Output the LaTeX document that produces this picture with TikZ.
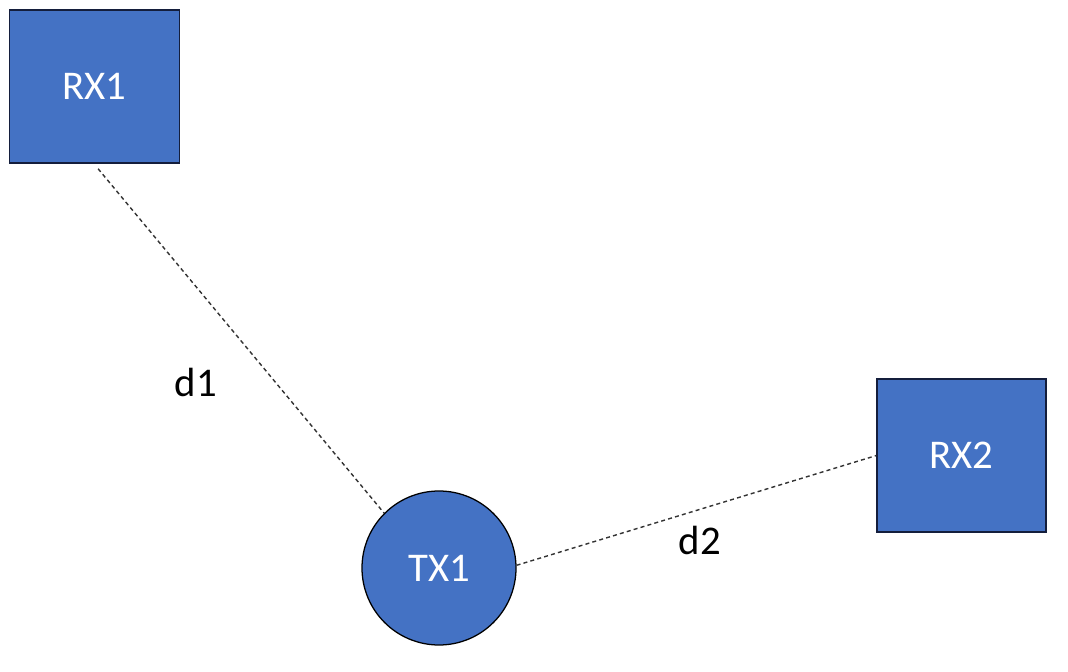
\documentclass[tikz,border=0pt]{standalone}
\usepackage{fontspec}
\setmainfont{Carlito}
\usetikzlibrary{positioning, calc}
\definecolor{nodeblue}{RGB}{68, 114, 196}
\definecolor{edgenavy}{RGB}{20, 30, 60}
\tikzset{
    rxbox/.style={draw=edgenavy, line width=0.8pt, fill=nodeblue, rectangle, minimum width=4.25cm, minimum height=3.825cm, font=\fontsize{29}{34}\selectfont, text=white},
    txnode/.style={draw=black, line width=0.9pt, fill=nodeblue, circle, minimum size=3.85cm, inner sep=0pt, font=\fontsize{29}{34}\selectfont, text=white},
    linkline/.style={draw=black!80, line width=1pt, dash pattern=on 0.1cm off 0.08cm},
    distlabel/.style={font=\fontsize{29}{34}\selectfont},
}
\begin{document}
\begin{tikzpicture}
    \useasboundingbox (0,0) rectangle (26.7,16.8);

    % Receivers
    \node[rxbox] (rx1) at (2.3625, 14.6375) {RX1};
    \node[rxbox, minimum width=4.225cm] (rx2) at (24.0375, 5.4125) {RX2};

    % Transmitter
    \node[txnode] (tx1) at (10.975, 2.6) {TX1};

    % Links
    \draw[linkline] ([shift={(0.09,-0.13)}]rx1.south) -- (tx1.135);
    \draw[linkline] (tx1.2) -- (rx2.west);

    % Distances
    \node[distlabel] (d1) at (4.9, 7.25) {d1};
    \node[distlabel] (d2) at (17.5, 3.3) {d2};
\end{tikzpicture}
\end{document}
